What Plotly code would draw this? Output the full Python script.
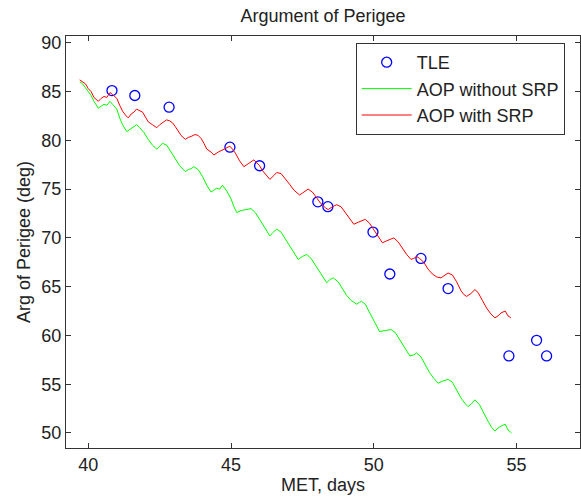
import plotly.graph_objects as go

# TLE observations
tle_met = [40.83, 41.63, 42.83, 44.96, 46.0, 48.04, 48.39, 49.97, 50.56, 51.65, 52.6, 54.73, 55.7, 56.05]
tle_aop = [85.1, 84.6, 83.4, 79.3, 77.4, 73.7, 73.2, 70.6, 66.3, 67.9, 64.8, 57.9, 59.5, 57.9]

# AOP with SRP (red)
srp_met = [39.7, 39.8, 39.9, 40.0, 40.1, 40.2, 40.35, 40.45, 40.55, 40.65, 40.76, 40.85, 41.0, 41.1, 41.2, 41.3,
           41.4, 41.5, 41.6, 41.69, 41.8, 41.9, 42.0, 42.1, 42.25, 42.4, 42.5, 42.6, 42.74, 42.85, 42.95, 43.05,
           43.15, 43.25, 43.4, 43.5, 43.6, 43.74, 43.85, 43.95, 44.05, 44.15, 44.3, 44.4, 44.55, 44.7, 44.85, 44.96,
           45.05, 45.15, 45.3, 45.45, 45.6, 45.8, 45.9, 46.0, 46.1, 46.25, 46.36, 46.5, 46.6, 46.75, 46.9, 47.05,
           47.2, 47.4, 47.5, 47.6, 47.7, 47.85, 48.0, 48.15, 48.3, 48.4, 48.55, 48.7, 48.85, 49.0, 49.15, 49.3,
           49.45, 49.6, 49.7, 49.85, 50.0, 50.15, 50.3, 50.45, 50.6, 50.7, 50.85, 51.0, 51.15, 51.3, 51.4, 51.5,
           51.6, 51.75, 51.9, 52.05, 52.2, 52.35, 52.5, 52.6, 52.75, 52.9, 53.05, 53.15, 53.25, 53.4, 53.54, 53.65,
           53.8, 53.95, 54.1, 54.24, 54.35, 54.45, 54.6, 54.7, 54.8]
srp_aop = [86.2, 86.0, 85.8, 85.3, 85.0, 84.4, 84.0, 84.3, 84.5, 84.4, 84.9, 84.7, 84.3, 83.6, 83.0, 82.6,
           82.3, 82.7, 82.9, 83.2, 83.0, 82.9, 82.4, 81.9, 81.6, 81.3, 81.6, 81.8, 82.1, 82.0, 81.8, 81.4,
           81.0, 80.5, 80.1, 80.3, 80.4, 80.6, 80.5, 80.2, 79.7, 79.1, 78.8, 78.5, 78.8, 79.0, 79.2, 79.4,
           79.1, 78.7, 77.9, 77.3, 77.6, 78.0, 77.7, 77.4, 76.9, 76.4, 76.0, 76.4, 76.7, 76.6, 76.1, 75.5,
           74.9, 74.4, 74.6, 74.8, 75.0, 74.7, 74.1, 73.5, 73.1, 72.9, 73.2, 73.4, 73.2, 72.6, 71.9, 71.4,
           71.6, 71.8, 71.9, 71.5, 70.8, 70.1, 69.5, 69.7, 69.9, 70.0, 69.6, 68.9, 68.3, 67.8, 67.9, 68.1,
           67.9, 67.5, 66.8, 66.3, 66.0, 65.9, 66.2, 66.4, 66.2, 65.5, 64.6, 64.2, 64.0, 64.3, 64.7, 64.4,
           63.6, 62.8, 62.2, 61.8, 62.0, 62.3, 62.5, 62.0, 61.8]

# AOP without SRP (green)
nosrp_met = [39.7, 39.8, 39.9, 40.0, 40.1, 40.2, 40.35, 40.45, 40.55, 40.65, 40.76, 40.85, 41.0, 41.1, 41.2, 41.35,
             41.45, 41.55, 41.69, 41.8, 41.95, 42.1, 42.25, 42.4, 42.5, 42.6, 42.75, 42.9, 43.05, 43.2, 43.4, 43.5,
             43.6, 43.7, 43.85, 44.0, 44.15, 44.3, 44.4, 44.5, 44.6, 44.7, 44.85, 45.0, 45.1, 45.2, 45.35, 45.5,
             45.7, 45.85, 46.0, 46.2, 46.36, 46.45, 46.6, 46.75, 46.9, 47.05, 47.2, 47.35, 47.5, 47.65, 47.8, 47.95,
             48.1, 48.25, 48.35, 48.45, 48.58, 48.75, 48.9, 49.05, 49.2, 49.4, 49.5, 49.57, 49.7, 49.85, 50.0, 50.2,
             50.4, 50.6, 50.75, 50.9, 51.05, 51.26, 51.4, 51.5, 51.65, 51.8, 51.95, 52.1, 52.25, 52.4, 52.6, 52.75,
             52.9, 53.05, 53.2, 53.3, 53.42, 53.54, 53.7, 53.85, 54.0, 54.12, 54.24, 54.35, 54.45, 54.6, 54.7, 54.82]
nosrp_aop = [86.0, 85.8, 85.4, 85.0, 84.6, 84.0, 83.3, 83.5, 83.7, 83.6, 84.0, 83.7, 83.2, 82.3, 81.6, 80.9,
             81.1, 81.3, 81.6, 81.3, 80.8, 80.1, 79.5, 79.1, 79.4, 79.7, 79.5, 78.8, 78.2, 77.4, 76.8, 77.0,
             77.1, 77.3, 77.0, 76.3, 75.4, 74.7, 74.9, 75.1, 75.0, 75.4, 74.8, 74.0, 73.2, 72.6, 72.8, 72.9,
             73.0, 72.6, 71.9, 71.0, 70.2, 70.5, 70.9, 70.6, 69.9, 69.1, 68.4, 67.8, 68.1, 68.3, 67.9, 67.2,
             66.5, 65.8, 65.4, 65.7, 65.9, 65.5, 64.8, 64.1, 63.6, 63.2, 63.4, 63.5, 63.2, 62.4, 61.5, 60.4,
             60.5, 60.6, 60.3, 59.6, 58.8, 57.9, 58.0, 58.2, 57.8, 57.0, 56.2, 55.6, 55.1, 55.3, 55.5, 55.2,
             54.4, 53.6, 53.0, 52.7, 53.0, 53.4, 52.9, 52.0, 51.2, 50.6, 50.2, 50.5, 50.7, 50.9, 50.3, 50.0]

x_ticks = [40, 45, 50, 55]
y_ticks = [50, 55, 60, 65, 70, 75, 80, 85, 90]

FONT = "Liberation Sans, Arial, sans-serif"
FS = 18
TXT = "#222222"

fig = go.Figure()
fig.add_trace(go.Scatter(x=tle_met, y=tle_aop, mode="markers", name="TLE",
                         marker=dict(symbol="circle-open", size=10, color="#0000FF",
                                     line=dict(width=1.3, color="#0000FF"))))
fig.add_trace(go.Scatter(x=nosrp_met, y=nosrp_aop, mode="lines", name="AOP without SRP",
                         line=dict(color="#00FF00", width=1)))
fig.add_trace(go.Scatter(x=srp_met, y=srp_aop, mode="lines", name="AOP with SRP",
                         line=dict(color="#FF0000", width=1)))

axis_common = dict(showline=True, linecolor="#333333", linewidth=1, mirror="ticks",
                   ticks="inside", ticklen=5, tickcolor="#333333", showgrid=False, zeroline=False,
                   tickfont=dict(family=FONT, size=FS, color=TXT))

fig.update_layout(
    width=581, height=500,
    margin=dict(l=66, r=1, t=36, b=52),
    paper_bgcolor="white", plot_bgcolor="white",
    font=dict(family=FONT, size=FS, color=TXT),
    title=dict(text="Argument of Perigee", x=0.5, xref="paper", xanchor="center",
               y=1 - 16 / 500, yanchor="middle", font=dict(family=FONT, size=FS, color=TXT)),
    xaxis=dict(range=[39.22, 57.22], tickvals=x_ticks, ticktext=[str(v) for v in x_ticks],
               title=dict(text="MET, days", standoff=4, font=dict(family=FONT, size=FS)), **axis_common),
    yaxis=dict(range=[48.46, 90.7], tickvals=y_ticks, ticktext=[str(v) for v in y_ticks],
               title=dict(text="Arg of Perigee (deg)", standoff=6, font=dict(family=FONT, size=FS)), **axis_common),
    legend=dict(x=0.5636, y=0.983, xanchor="left", yanchor="top", bgcolor="white",
                bordercolor="#333333", borderwidth=1, font=dict(family=FONT, size=FS, color=TXT),
                tracegroupgap=0, itemwidth=50),
    showlegend=True,
)

fig.write_html("out.html")
